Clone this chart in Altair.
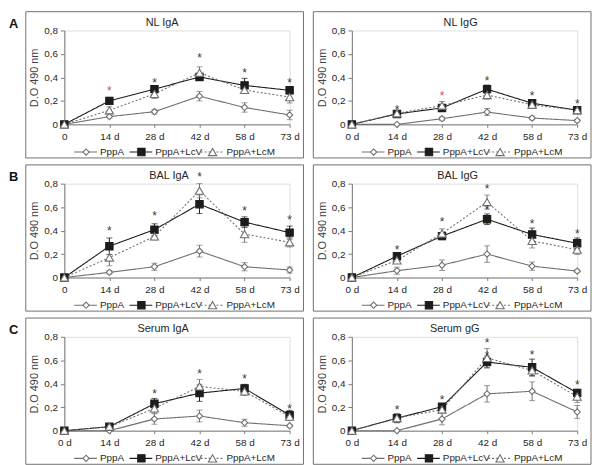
import altair as alt
import pandas as pd

SERIES = ["PppA", "PppA+LcV", "PppA+LcM"]
DAYS_0 = ["0", "14 d", "28 d", "42 d", "58 d", "73 d"]
DAYS_D = ["0 d", "14 d", "28 d", "42 d", "58 d", "73 d"]
Y_TICKS = [0, 0.2, 0.4, 0.6, 0.8]
Y_TITLE = "D.O 490 nm"

# ---- NL IgA ----
nl_iga_pppa = [0, 0.066, 0.108, 0.24, 0.144, 0.08]
nl_iga_pppa_err = [0, 0.01, 0.02, 0.04, 0.04, 0.04]
nl_iga_lcv = [0, 0.20, 0.30, 0.404, 0.332, 0.29]
nl_iga_lcv_err = [0, 0.03, 0.02, 0.03, 0.06, 0.03]
nl_iga_lcm = [0, 0.12, 0.26, 0.44, 0.293, 0.232]
nl_iga_lcm_err = [0, 0.03, 0.04, 0.05, 0.03, 0.05]
nl_iga_star_day = ["14 d", "28 d", "42 d", "58 d", "73 d"]
nl_iga_star_y = [0.30, 0.365, 0.585, 0.45, 0.365]
nl_iga_star_red = [1, 0, 0, 0, 0]

# ---- NL IgG ----
nl_igg_pppa = [0, 0.0, 0.048, 0.105, 0.054, 0.032]
nl_igg_pppa_err = [0, 0, 0.015, 0.03, 0.015, 0.01]
nl_igg_lcv = [0, 0.089, 0.14, 0.30, 0.18, 0.121]
nl_igg_lcv_err = [0, 0.02, 0.02, 0.035, 0.02, 0.01]
nl_igg_lcm = [0, 0.094, 0.16, 0.25, 0.167, 0.12]
nl_igg_lcm_err = [0, 0.015, 0.035, 0.035, 0.025, 0.01]
nl_igg_star_day = ["14 d", "28 d", "42 d", "58 d", "73 d"]
nl_igg_star_y = [0.143, 0.256, 0.39, 0.256, 0.19]
nl_igg_star_red = [0, 1, 0, 0, 0]

# ---- BAL IgA ----
bal_iga_pppa = [0, 0.044, 0.092, 0.225, 0.092, 0.064]
bal_iga_pppa_err = [0, 0.015, 0.03, 0.05, 0.035, 0.025]
bal_iga_lcv = [0, 0.267, 0.408, 0.625, 0.472, 0.383]
bal_iga_lcv_err = [0, 0.07, 0.05, 0.08, 0.045, 0.055]
bal_iga_lcm = [0, 0.17, 0.35, 0.74, 0.37, 0.30]
bal_iga_lcm_err = [0, 0.07, 0.03, 0.06, 0.07, 0.04]
bal_iga_star_day = ["14 d", "28 d", "42 d", "58 d", "73 d"]
bal_iga_star_y = [0.41, 0.54, 0.875, 0.586, 0.503]
bal_iga_star_red = [0, 0, 0, 0, 0]

# ---- BAL IgG ----
bal_igg_pppa = [0, 0.058, 0.105, 0.20, 0.097, 0.055]
bal_igg_pppa_err = [0, 0.03, 0.045, 0.07, 0.035, 0.01]
bal_igg_lcv = [0, 0.182, 0.353, 0.497, 0.367, 0.292]
bal_igg_lcv_err = [0, 0.02, 0.03, 0.045, 0.055, 0.045]
bal_igg_lcm = [0, 0.146, 0.375, 0.643, 0.312, 0.237]
bal_igg_lcm_err = [0, 0.02, 0.04, 0.06, 0.06, 0.04]
bal_igg_star_day = ["14 d", "28 d", "42 d", "42 d", "58 d", "73 d"]
bal_igg_star_y = [0.248, 0.49, 0.767, 0.59, 0.469, 0.389]
bal_igg_star_red = [0, 0, 0, 0, 0, 0]

# ---- Serum IgA ----
ser_iga_pppa = [0, 0.0, 0.10, 0.125, 0.068, 0.042]
ser_iga_pppa_err = [0, 0, 0.045, 0.05, 0.03, 0.01]
ser_iga_lcv = [0, 0.034, 0.23, 0.32, 0.36, 0.133]
ser_iga_lcv_err = [0, 0.01, 0.045, 0.07, 0.035, 0.04]
ser_iga_lcm = [0, 0.034, 0.19, 0.377, 0.335, 0.12]
ser_iga_lcm_err = [0, 0.01, 0.04, 0.06, 0.035, 0.03]
ser_iga_star_day = ["28 d", "42 d", "58 d", "73 d"]
ser_iga_star_y = [0.33, 0.50, 0.46, 0.20]
ser_iga_star_red = [0, 0, 0, 0]

# ---- Serum gG ----
ser_igg_pppa = [0, 0.0, 0.10, 0.314, 0.336, 0.16]
ser_igg_pppa_err = [0, 0, 0.05, 0.07, 0.08, 0.055]
ser_igg_lcv = [0, 0.107, 0.204, 0.585, 0.54, 0.322]
ser_igg_lcv_err = [0, 0.035, 0.015, 0.05, 0.07, 0.03]
ser_igg_lcm = [0, 0.107, 0.18, 0.62, 0.513, 0.29]
ser_igg_lcm_err = [0, 0.04, 0.02, 0.08, 0.05, 0.05]
ser_igg_star_day = ["14 d", "28 d", "42 d", "42 d", "58 d", "73 d"]
ser_igg_star_y = [0.19, 0.277, 0.762, 0.655, 0.665, 0.405]
ser_igg_star_red = [0, 0, 0, 0, 0, 0]

W, H = 228, 95
FONT = "Liberation Sans"
TXT = "#262626"
GRAY = "#707070"
DARK = "#1c1c1c"

sc_stroke = alt.Scale(domain=SERIES, range=[GRAY, DARK, GRAY])
sc_fill = alt.Scale(domain=SERIES, range=["white", DARK, "white"])
sc_shape = alt.Scale(domain=SERIES, range=["diamond", "square", "triangle-up"])
sc_size = alt.Scale(domain=SERIES, range=[40, 70, 55])
sc_dash = alt.Scale(domain=SERIES, range=[[1, 0], [1, 0], [2, 2]])

LEG_X = [10, 66, 138]


def panel(title, days, vals, errs, star_day, star_y, star_red, title_dx, letter=None):
    rows = []
    for s, v, e in zip(SERIES, vals, errs):
        for d, vv, ee in zip(days, v, e):
            rows.append(dict(series=s, day=d, v=vv, lo=vv - ee, hi=vv + ee, err=ee))
    df = pd.DataFrame(rows)
    edf = df[df.err > 0]
    sdf = pd.DataFrame(dict(day=star_day, y=star_y,
                            col=["#c8505a" if r else "#3a3a3a" for r in star_red]))

    xax = alt.Axis(title=None, labelAngle=0, labelFontSize=10, labelColor=TXT,
                   domainColor="#7a7a7a", tickColor="#7a7a7a", tickSize=3,
                   labelPadding=4, labelFont=FONT)
    yax = alt.Axis(title=Y_TITLE, values=Y_TICKS, grid=False,
                   labelExpr="datum.value == 0 ? '0' : replace(format(datum.value, '.1f'), '.', ',')",
                   labelFontSize=10, labelColor=TXT, labelFont=FONT,
                   titleFont=FONT, titleFontSize=11, titleFontWeight="normal",
                   titleColor="#404040", titlePadding=4,
                   domainColor="#7a7a7a", tickColor="#7a7a7a", tickSize=4, labelPadding=3)
    xs = alt.Scale(type="point", padding=0, domain=days)
    ys = alt.Scale(domain=[0, 0.8], nice=False, zero=True)

    X = alt.X("day:O", sort=days, scale=xs, axis=xax)

    one = pd.DataFrame({"k": [0]})
    layers = []
    layers.append(alt.Chart(one).mark_rect(fillOpacity=0, stroke="#707070", strokeWidth=1).encode(
        x=alt.value(-39), x2=alt.value(W + 14), y=alt.value(-19), y2=alt.value(H + 34)))
    layers.append(alt.Chart(df).mark_line(strokeWidth=1.1).encode(
        x=X, y=alt.Y("v:Q", scale=ys, axis=yax),
        detail="series:N",
        stroke=alt.Stroke("series:N", scale=sc_stroke, legend=None),
        strokeDash=alt.StrokeDash("series:N", scale=sc_dash, legend=None)))
    layers.append(alt.Chart(edf).mark_rule(strokeWidth=1).encode(
        x=X, y=alt.Y("lo:Q", scale=ys, axis=yax), y2="hi:Q",
        stroke=alt.Stroke("series:N", scale=sc_stroke, legend=None)))
    for f in ["lo", "hi"]:
        layers.append(alt.Chart(edf).mark_tick(size=6, thickness=1).encode(
            x=X, y=alt.Y(f + ":Q", scale=ys, axis=yax),
            color=alt.Color("series:N", scale=sc_stroke, legend=None)))
    layers.append(alt.Chart(df).mark_point(filled=True, opacity=1, strokeWidth=1.1).encode(
        x=X, y=alt.Y("v:Q", scale=ys, axis=yax),
        shape=alt.Shape("series:N", scale=sc_shape, legend=None),
        fill=alt.Fill("series:N", scale=sc_fill, legend=None),
        stroke=alt.Stroke("series:N", scale=sc_stroke, legend=None),
        size=alt.Size("series:N", scale=sc_size, legend=None)))
    layers.append(alt.Chart(sdf).mark_text(text="*", fontSize=12, font=FONT, dy=2).encode(
        x=X, y=alt.Y("y:Q", scale=ys, axis=yax),
        color=alt.Color("col:N", scale=None)))
    layers.append(alt.Chart(one).mark_text(fontSize=11, font=FONT, color=TXT, baseline="middle").encode(
        x=alt.value(title_dx), y=alt.value(-8), text=alt.value(title)))
    if letter:
        layers.append(alt.Chart(one).mark_text(fontSize=13, font=FONT, fontWeight="bold",
                                                color="#111111", align="left", baseline="middle").encode(
            x=alt.value(-56), y=alt.value(-7), text=alt.value(letter)))
    # custom legend
    ly = H + 28
    for s, x0 in zip(SERIES, LEG_X):
        ldf = pd.DataFrame({"series": [s]})
        layers.append(alt.Chart(ldf).mark_rule(strokeWidth=1.1).encode(
            x=alt.value(x0), x2=alt.value(x0 + 23), y=alt.value(ly),
            stroke=alt.Stroke("series:N", scale=sc_stroke, legend=None),
            strokeDash=alt.StrokeDash("series:N", scale=sc_dash, legend=None)))
        layers.append(alt.Chart(ldf).mark_point(filled=True, opacity=1, strokeWidth=1.1).encode(
            x=alt.value(x0 + 12), y=alt.value(ly),
            shape=alt.Shape("series:N", scale=sc_shape, legend=None),
            fill=alt.Fill("series:N", scale=sc_fill, legend=None),
            stroke=alt.Stroke("series:N", scale=sc_stroke, legend=None),
            size=alt.Size("series:N", scale=sc_size, legend=None)))
        layers.append(alt.Chart(ldf).mark_text(align="left", baseline="middle", fontSize=10,
                                               font=FONT, color=TXT).encode(
            x=alt.value(x0 + 26), y=alt.value(ly), text="series:N"))
    return alt.layer(*layers).properties(width=W, height=H)


pA = panel("NL IgA", DAYS_0, [nl_iga_pppa, nl_iga_lcv, nl_iga_lcm],
           [nl_iga_pppa_err, nl_iga_lcv_err, nl_iga_lcm_err],
           nl_iga_star_day, nl_iga_star_y, nl_iga_star_red, 99, "A")
pA2 = panel("NL IgG", DAYS_D, [nl_igg_pppa, nl_igg_lcv, nl_igg_lcm],
            [nl_igg_pppa_err, nl_igg_lcv_err, nl_igg_lcm_err],
            nl_igg_star_day, nl_igg_star_y, nl_igg_star_red, 110)
pB = panel("BAL IgA", DAYS_0, [bal_iga_pppa, bal_iga_lcv, bal_iga_lcm],
           [bal_iga_pppa_err, bal_iga_lcv_err, bal_iga_lcm_err],
           bal_iga_star_day, bal_iga_star_y, bal_iga_star_red, 106, "B")
pB2 = panel("BAL IgG", DAYS_D, [bal_igg_pppa, bal_igg_lcv, bal_igg_lcm],
            [bal_igg_pppa_err, bal_igg_lcv_err, bal_igg_lcm_err],
            bal_igg_star_day, bal_igg_star_y, bal_igg_star_red, 107)
pC = panel("Serum IgA", DAYS_D, [ser_iga_pppa, ser_iga_lcv, ser_iga_lcm],
           [ser_iga_pppa_err, ser_iga_lcv_err, ser_iga_lcm_err],
           ser_iga_star_day, ser_iga_star_y, ser_iga_star_red, 100, "C")
pC2 = panel("Serum gG", DAYS_D, [ser_igg_pppa, ser_igg_lcv, ser_igg_lcm],
            [ser_igg_pppa_err, ser_igg_lcv_err, ser_igg_lcm_err],
            ser_igg_star_day, ser_igg_star_y, ser_igg_star_red, 104)

chart = alt.vconcat(
    alt.hconcat(pA, pA2, spacing=8),
    alt.hconcat(pB, pB2, spacing=8),
    alt.hconcat(pC, pC2, spacing=8),
    spacing=5,
).properties(padding=0).configure_view(stroke=None).configure(background="white")

chart.save("out.html", embed_options={"renderer": "svg", "actions": False})
